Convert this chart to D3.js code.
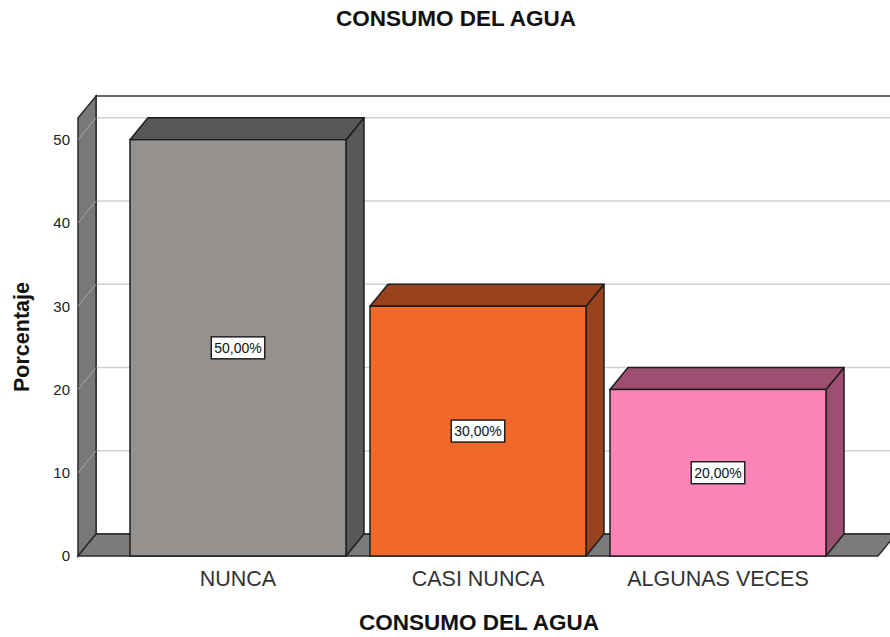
<!DOCTYPE html>
<html>
<head>
<meta charset="utf-8">
<script src="https://cdn.jsdelivr.net/npm/d3@7"></script>
<style>
  body { margin: 0; background: #fff; }
  text { font-family: "Liberation Sans", Arial, sans-serif; }
</style>
</head>
<body>
<svg></svg>
<script>
const width = 890;
const height = 637;

// datos
const categories = ["NUNCA", "CASI NUNCA", "ALGUNAS VECES"];
const percents = [50, 30, 20];
const barLabels = ["50,00%", "30,00%", "20,00%"];
const yTicks = [0, 10, 20, 30, 40, 50];

// colores (frente, arriba/lado)
const frontColors = ["#95918f", "#f2682b", "#fd84b8"];
const topColors = ["#5a5857", "#9a411e", "#9d4f71"];

const depthX = 18;
const depthY = 22;

let svg = d3.select("svg")
    .attr("width", width)
    .attr("height", height);

let scaleY = d3.scaleLinear()
    .domain([0, 52.6])
    .range([556, 118]);

let scaleX = d3.scaleBand()
    .domain(categories)
    .range([78, 878])
    .paddingInner(0.1)
    .paddingOuter(0.2167);

const x0 = 78, x1 = 878;
const yBase = scaleY(0);
const yTop = scaleY(52.6);

// pared del fondo
svg.append("rect")
    .attr("x", x0 + depthX)
    .attr("y", yTop - depthY)
    .attr("width", width)
    .attr("height", yBase - yTop)
    .attr("fill", "#fff")
    .attr("stroke", "#333")
    .attr("stroke-width", 1.5);

svg.selectAll(".grid")
    .data(yTicks.filter(d => d > 0))
    .enter()
    .append("line")
    .attr("x1", x0 + depthX)
    .attr("x2", width)
    .attr("y1", d => scaleY(d) - depthY)
    .attr("y2", d => scaleY(d) - depthY)
    .attr("stroke", "#cfcfcf")
    .attr("stroke-width", 1.5);

// pared izquierda
svg.append("path")
    .attr("d", `M${x0},${yBase} L${x0},${yTop} L${x0 + depthX},${yTop - depthY} L${x0 + depthX},${yBase - depthY} Z`)
    .attr("fill", "#787878")
    .attr("stroke", "#2a2a2a")
    .attr("stroke-width", 1.5);

svg.selectAll(".wallgrid")
    .data(yTicks.filter(d => d > 0))
    .enter()
    .append("line")
    .attr("x1", x0)
    .attr("x2", x0 + depthX)
    .attr("y1", d => scaleY(d))
    .attr("y2", d => scaleY(d) - depthY)
    .attr("stroke", "#a8a8a8")
    .attr("stroke-width", 1);

// piso
svg.append("path")
    .attr("d", `M${x0},${yBase} L${x1},${yBase} L${x1 + depthX},${yBase - depthY} L${x0 + depthX},${yBase - depthY} Z`)
    .attr("fill", "#7b7b7b")
    .attr("stroke", "#2a2a2a")
    .attr("stroke-width", 1.5);

// barras
let bars = svg.selectAll(".bar")
    .data(categories.map((c, i) => ({cat: c, value: percents[i], label: barLabels[i], i: i})))
    .enter()
    .append("g");

bars.append("path")
    .attr("d", d => {
        let x = scaleX(d.cat) + scaleX.bandwidth(), y = scaleY(d.value);
        return `M${x},${yBase} L${x},${y} L${x + depthX},${y - depthY} L${x + depthX},${yBase - depthY} Z`;
    })
    .attr("fill", d => topColors[d.i])
    .attr("stroke", "#1e1e1e")
    .attr("stroke-width", 1.5)
    .attr("stroke-linejoin", "round");

bars.append("path")
    .attr("d", d => {
        let x = scaleX(d.cat), w = scaleX.bandwidth(), y = scaleY(d.value);
        return `M${x},${y} L${x + depthX},${y - depthY} L${x + w + depthX},${y - depthY} L${x + w},${y} Z`;
    })
    .attr("fill", d => topColors[d.i])
    .attr("stroke", "#1e1e1e")
    .attr("stroke-width", 1.5)
    .attr("stroke-linejoin", "round");

bars.append("rect")
    .attr("x", d => scaleX(d.cat))
    .attr("y", d => scaleY(d.value))
    .attr("width", scaleX.bandwidth())
    .attr("height", d => yBase - scaleY(d.value))
    .attr("fill", d => frontColors[d.i])
    .attr("stroke", "#1e1e1e")
    .attr("stroke-width", 1.5);

// etiquetas
bars.each(function(d) {
    let g = d3.select(this);
    let cx = scaleX(d.cat) + scaleX.bandwidth() / 2;
    let cy = scaleY(d.value / 2);
    let t = g.append("text")
        .attr("x", cx)
        .attr("y", cy)
        .attr("dy", "0.36em")
        .attr("text-anchor", "middle")
        .attr("font-size", 14)
        .attr("fill", "#111")
        .text(d.label);
    let bb = t.node().getBBox();
    g.insert("rect", "text")
        .attr("x", bb.x - 3)
        .attr("y", cy - 11)
        .attr("width", bb.width + 6)
        .attr("height", 22)
        .attr("fill", "#fff")
        .attr("stroke", "#222")
        .attr("stroke-width", 1.5);
});

// eje Y
svg.selectAll(".ytick")
    .data(yTicks)
    .enter()
    .append("text")
    .attr("x", 70)
    .attr("y", d => scaleY(d))
    .attr("dy", "0.36em")
    .attr("text-anchor", "end")
    .attr("font-size", 15)
    .attr("fill", "#222")
    .text(d => d);

// eje X
svg.selectAll(".xlabel")
    .data(categories)
    .enter()
    .append("text")
    .attr("x", d => scaleX(d) + scaleX.bandwidth() / 2)
    .attr("y", 586)
    .attr("text-anchor", "middle")
    .attr("font-size", 21.5)
    .attr("fill", "#333")
    .text(d => d);

// títulos
svg.append("text")
    .attr("x", 456)
    .attr("y", 26)
    .attr("text-anchor", "middle")
    .attr("font-size", 22.5)
    .attr("font-weight", "bold")
    .attr("fill", "#111")
    .text("CONSUMO DEL AGUA");

svg.append("text")
    .attr("x", 479)
    .attr("y", 630)
    .attr("text-anchor", "middle")
    .attr("font-size", 22.5)
    .attr("font-weight", "bold")
    .attr("fill", "#111")
    .text("CONSUMO DEL AGUA");

svg.append("text")
    .attr("transform", "translate(29, 337) rotate(-90)")
    .attr("text-anchor", "middle")
    .attr("font-size", 21.5)
    .attr("font-weight", "bold")
    .attr("fill", "#111")
    .text("Porcentaje");
</script>
</body>
</html>
